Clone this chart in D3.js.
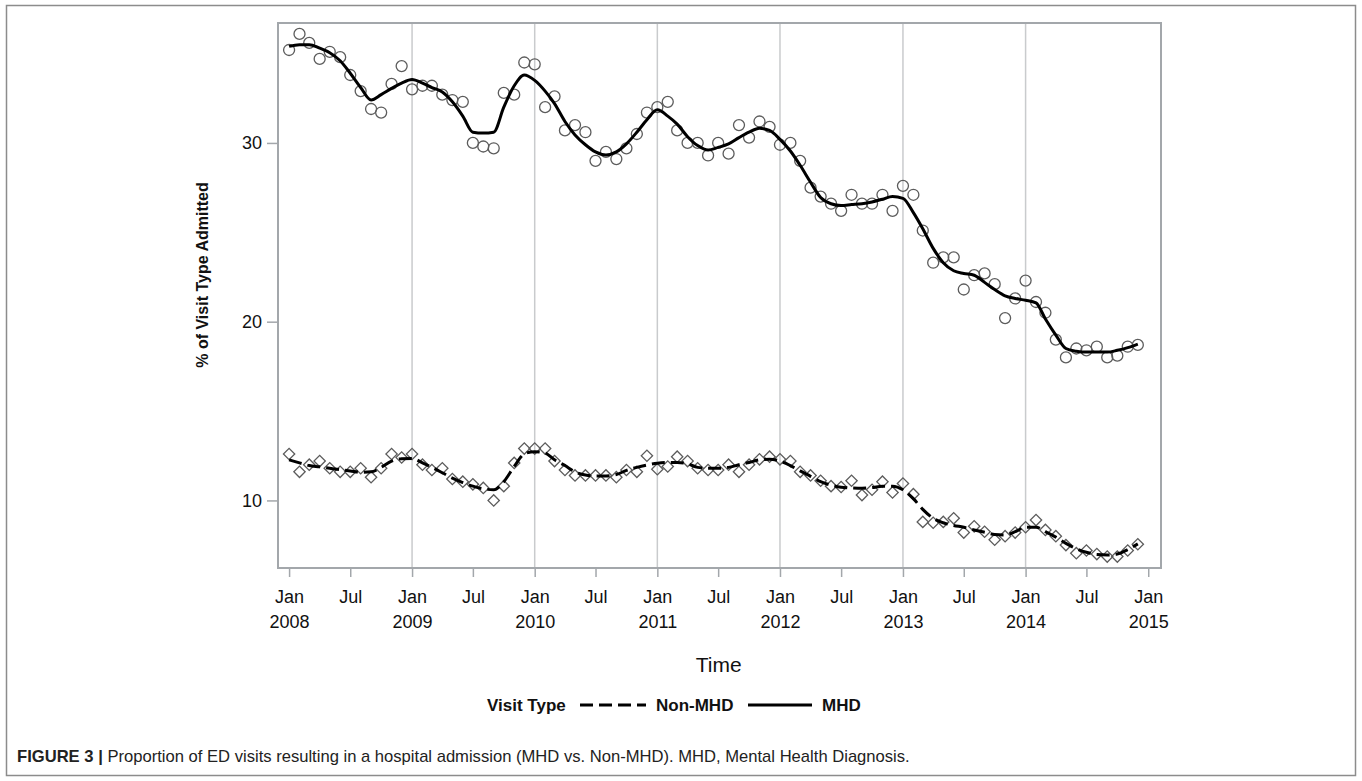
<!DOCTYPE html>
<html>
<head>
<meta charset="utf-8">
<script src="https://cdn.jsdelivr.net/npm/d3@7"></script>
<style>
  html, body { margin: 0; padding: 0; background: #fff; }
  svg { display: block; }
</style>
</head>
<body>
<svg id="chart" width="1362" height="781"></svg>
<script>
// Monthly observations, Jan 2008 – Dec 2014 (84 months)
const startYear = 2008;
const monthCount = 84;

// % of MHD visits admitted (observed)
const mhdObserved = [
  35.2, 36.1, 35.6, 34.7, 35.1, 34.8, 33.8, 32.9, 31.9, 31.7, 33.3, 34.3,
  33.0, 33.2, 33.2, 32.7, 32.4, 32.3, 30.0, 29.8, 29.7, 32.8, 32.7, 34.5,
  34.4, 32.0, 32.6, 30.7, 31.0, 30.6, 29.0, 29.5, 29.1, 29.7, 30.5, 31.7,
  32.0, 32.3, 30.7, 30.0, 30.0, 29.3, 30.0, 29.4, 31.0, 30.3, 31.2, 30.9,
  29.9, 30.0, 29.0, 27.5, 27.0, 26.6, 26.2, 27.1, 26.6, 26.6, 27.1, 26.2,
  27.6, 27.1, 25.1, 23.3, 23.6, 23.6, 21.8, 22.6, 22.7, 22.1, 20.2, 21.3,
  22.3, 21.1, 20.5, 19.0, 18.0, 18.5, 18.4, 18.6, 18.0, 18.1, 18.6, 18.7
];

// % of MHD visits admitted (smoothed fit)
const mhdFit = [
  35.4, 35.5, 35.5, 35.3, 35.05, 34.6, 33.9, 33.1, 32.4, 32.7, 33.05, 33.35,
  33.55, 33.35, 33.1, 32.85, 32.3, 31.5, 30.6, 30.55, 30.6, 32.0, 33.2, 33.8,
  33.5, 32.9, 32.2, 31.2, 30.45, 29.9, 29.5, 29.33, 29.5, 29.95, 30.6, 31.3,
  31.85, 31.5, 31.05, 30.35, 29.85, 29.6, 29.75, 29.95, 30.3, 30.6, 30.82, 30.7,
  30.2, 29.55, 28.75, 27.8, 26.95, 26.6, 26.5, 26.55, 26.6, 26.7, 26.85, 27.0,
  26.9, 26.1, 25.2, 24.1, 23.3, 22.85, 22.7, 22.6, 22.2, 21.8, 21.45, 21.3,
  21.2, 21.05, 20.15, 19.25, 18.5, 18.35, 18.3, 18.3, 18.3, 18.4, 18.55, 18.75
];

// % of Non-MHD visits admitted (observed)
const nonMhdObserved = [
  12.6, 11.6, 12.0, 12.2, 11.8, 11.6, 11.6, 11.8, 11.3, 11.8, 12.6, 12.4,
  12.6, 12.0, 11.7, 11.8, 11.2, 11.05, 10.9, 10.7, 10.0, 10.8, 12.1, 12.9,
  12.9, 12.9, 12.2, 11.7, 11.4, 11.4, 11.4, 11.4, 11.3, 11.7, 11.6, 12.5,
  11.75, 11.9, 12.45, 12.2, 11.8, 11.7, 11.7, 12.0, 11.6, 12.0, 12.3, 12.45,
  12.3, 12.2, 11.6, 11.4, 11.1, 10.8, 10.75, 11.1, 10.3, 10.6, 11.05, 10.45,
  10.95, 10.35, 8.8, 8.75, 8.8, 9.0, 8.2, 8.55, 8.25, 7.8, 8.0, 8.2,
  8.5, 8.9, 8.35, 8.0, 7.5, 7.05, 7.2, 7.0, 6.86, 6.86, 7.2, 7.55
];

// % of Non-MHD visits admitted (smoothed fit)
const nonMhdFit = [
  12.27, 12.1, 11.95, 11.88, 11.8, 11.72, 11.65, 11.58, 11.6, 11.85, 12.2, 12.33,
  12.35, 12.1, 11.85, 11.55, 11.25, 11.0, 10.8, 10.65, 10.6, 11.05, 11.9, 12.6,
  12.73, 12.65, 12.27, 11.95, 11.6, 11.42, 11.37, 11.37, 11.45, 11.68, 11.85, 11.98,
  12.08, 12.12, 12.12, 12.05, 11.85, 11.8, 11.8, 11.85, 12.0, 12.12, 12.27, 12.3,
  12.2, 11.95, 11.65, 11.35, 11.05, 10.85, 10.74, 10.7, 10.68, 10.72, 10.8, 10.8,
  10.6, 10.1, 9.5, 9.0, 8.75, 8.6, 8.5, 8.35, 8.22, 8.1, 8.07, 8.25,
  8.5, 8.5, 8.25, 7.95, 7.6, 7.3, 7.1, 6.97, 6.95, 7.0, 7.25, 7.57
];

const yTickValues = [10, 20, 30];
const legendTitle = "Visit Type";
const legendLabels = ["Non-MHD", "MHD"];
const xTitle = "Time";
const yTitle = "% of Visit Type Admitted";
const captionBold = "FIGURE 3 |";
const captionText = " Proportion of ED visits resulting in a hospital admission (MHD vs. Non-MHD). MHD, Mental Health Diagnosis.";

const months = d3.range(monthCount).map(i => new Date(startYear, i, 1));
const mhd = months.map((d, i) => ({ date: d, obs: mhdObserved[i], fit: mhdFit[i] }));
const nonMhd = months.map((d, i) => ({ date: d, obs: nonMhdObserved[i], fit: nonMhdFit[i] }));

const svg = d3.select("#chart");
const W = 1362, H = 781;
const plot = { left: 278, right: 1161, top: 23, bottom: 568 };

const x = d3.scaleTime()
  .domain([new Date(2007, 10, 29), new Date(2015, 1, 8)])
  .range([plot.left, plot.right]);
const y = d3.scaleLinear()
  .domain([6.22, 36.71])
  .range([plot.bottom, plot.top]);

const font = "'Liberation Sans', Arial, sans-serif";
const narrow = "'Liberation Sans Narrow', 'Liberation Sans', sans-serif";
const frameColor = "#a3a7ab";
const markerColor = "#5c5c5c";

// Outer figure border
svg.append("rect")
  .attr("x", 6.5).attr("y", 5.5)
  .attr("width", W - 13).attr("height", H - 11)
  .attr("fill", "none").attr("stroke", "#8c8c8c").attr("stroke-width", 1.5);

// Vertical gridlines at each January
const janTicks = d3.range(2009, 2015).map(yr => new Date(yr, 0, 1));
svg.append("g").selectAll("line").data(janTicks).join("line")
  .attr("x1", d => x(d)).attr("x2", d => x(d))
  .attr("y1", plot.top).attr("y2", plot.bottom)
  .attr("stroke", "#c9cbcd").attr("stroke-width", 1.5);

// Axes
const xTickDates = d3.timeMonth.every(6).range(new Date(2008, 0, 1), new Date(2015, 0, 2));
const xAxis = d3.axisBottom(x)
  .tickValues(xTickDates)
  .tickSize(9)
  .tickFormat(d => d.getMonth() === 0 ? "Jan|" + d.getFullYear() : "Jul");
const gx = svg.append("g")
  .attr("transform", `translate(0,${plot.bottom})`)
  .call(xAxis);
gx.select(".domain").remove();
gx.selectAll(".tick line").attr("stroke", frameColor).attr("stroke-width", 1.5);
gx.selectAll(".tick text").each(function() {
  const t = d3.select(this);
  const parts = t.text().split("|");
  t.text(null)
    .attr("y", null).attr("dy", null)
    .attr("font-family", font).attr("font-size", 18).attr("fill", "#111");
  parts.forEach((p, i) => {
    t.append("tspan").attr("x", 0).attr("y", 35 + i * 25).text(p);
  });
});

const yAxis = d3.axisLeft(y).tickValues(yTickValues).tickSize(11).tickPadding(5);
const gy = svg.append("g")
  .attr("transform", `translate(${plot.left},0)`)
  .call(yAxis);
gy.select(".domain").remove();
gy.selectAll(".tick line").attr("stroke", frameColor).attr("stroke-width", 1.5);
gy.selectAll(".tick text")
  .attr("font-family", font).attr("font-size", 18).attr("fill", "#111");

// Plot frame
svg.append("rect")
  .attr("x", plot.left).attr("y", plot.top)
  .attr("width", plot.right - plot.left).attr("height", plot.bottom - plot.top)
  .attr("fill", "none").attr("stroke", frameColor).attr("stroke-width", 2);

// Markers: circles for MHD, diamonds for Non-MHD
svg.append("g").selectAll("circle").data(mhd).join("circle")
  .attr("cx", d => x(d.date)).attr("cy", d => y(d.obs))
  .attr("r", 5.5)
  .attr("fill", "none").attr("stroke", markerColor).attr("stroke-width", 1.3);

svg.append("g").selectAll("path").data(nonMhd).join("path")
  .attr("transform", d => `translate(${x(d.date)},${y(d.obs)}) rotate(45)`)
  .attr("d", d3.symbol().type(d3.symbolSquare).size(64))
  .attr("fill", "none").attr("stroke", markerColor).attr("stroke-width", 1.3);

// Fitted lines
const line = d3.line().x(d => x(d.date)).y(d => y(d.fit)).curve(d3.curveMonotoneX);
svg.append("path").datum(mhd)
  .attr("d", line)
  .attr("fill", "none").attr("stroke", "#000").attr("stroke-width", 3)
  .attr("stroke-linejoin", "round");
svg.append("path").datum(nonMhd)
  .attr("d", line)
  .attr("fill", "none").attr("stroke", "#000").attr("stroke-width", 3)
  .attr("stroke-dasharray", "13,6");

// Axis titles
svg.append("text")
  .attr("x", (x(new Date(2008, 0, 1)) + x(new Date(2015, 0, 1))) / 2)
  .attr("y", 672)
  .attr("text-anchor", "middle")
  .attr("font-family", font).attr("font-size", 21).attr("fill", "#111")
  .text(xTitle);

svg.append("text")
  .attr("transform", `translate(208,275) rotate(-90)`)
  .attr("text-anchor", "middle")
  .attr("font-family", narrow)
  .attr("font-weight", "bold").attr("font-size", 16).attr("fill", "#111")
  .text(yTitle);

// Legend
const lg = svg.append("g").attr("font-family", narrow)
  .attr("font-weight", "bold").attr("font-size", 17).attr("fill", "#111");
lg.append("text").attr("x", 487).attr("y", 711).text(legendTitle);
lg.append("line").attr("x1", 580).attr("x2", 646).attr("y1", 705).attr("y2", 705)
  .attr("stroke", "#000").attr("stroke-width", 3).attr("stroke-dasharray", "13,6");
lg.append("text").attr("x", 656).attr("y", 711).text(legendLabels[0]);
lg.append("line").attr("x1", 748).attr("x2", 812).attr("y1", 705).attr("y2", 705)
  .attr("stroke", "#000").attr("stroke-width", 3);
lg.append("text").attr("x", 822).attr("y", 711).text(legendLabels[1]);

// Caption
const cap = svg.append("text").attr("x", 17).attr("y", 762)
  .attr("font-family", font).attr("font-size", 16.6).attr("fill", "#222");
cap.append("tspan").attr("font-weight", "bold").text(captionBold);
cap.append("tspan").text(captionText);
</script>
</body>
</html>
